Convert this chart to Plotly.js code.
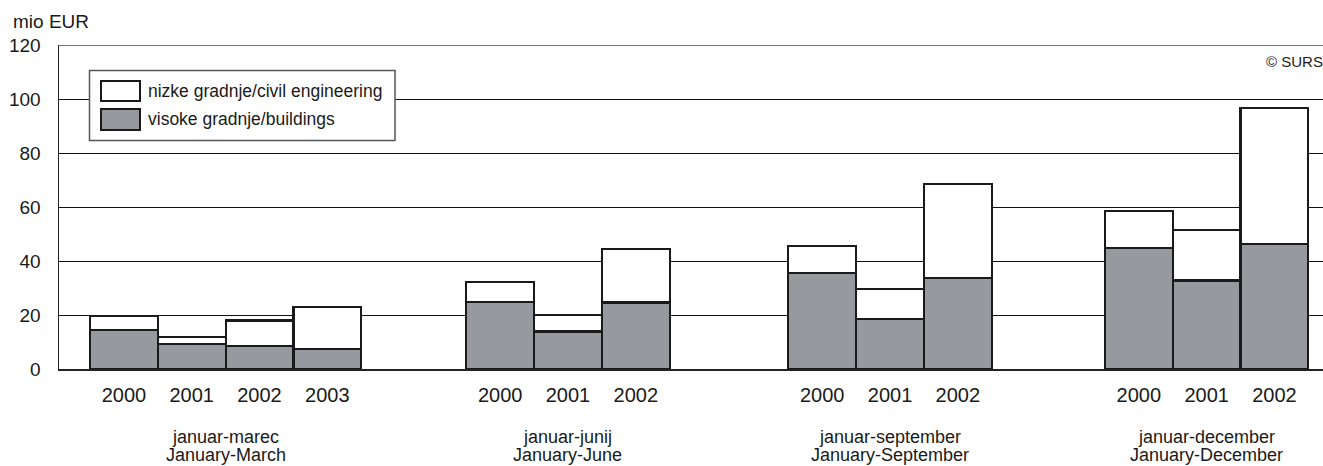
<!DOCTYPE html>
<html>
<head>
<meta charset="utf-8">
<script src="https://cdn.plot.ly/plotly-3.0.1.min.js"></script>
<style>html,body{margin:0;padding:0;background:#fff;}#chart{width:1323px;height:466px;}</style>
</head>
<body>
<div id="chart"></div>
<script>
// ---- data ----
const periodsSl = ["januar-marec", "januar-junij", "januar-september", "januar-december"];
const periodsEn = ["January-March", "January-June", "January-September", "January-December"];
const years = [
  ["2000", "2001", "2002", "2003"],
  ["2000", "2001", "2002"],
  ["2000", "2001", "2002"],
  ["2000", "2001", "2002"]
];
const buildings = [
  [14.5, 9.4, 8.6, 7.4],
  [24.8, 13.9, 24.6],
  [35.5, 18.6, 33.7],
  [44.9, 32.8, 46.4]
];
const civilEngineering = [
  [5.0, 2.4, 9.4, 15.5],
  [7.4, 6.2, 19.9],
  [10.1, 10.9, 34.8],
  [13.6, 18.7, 50.4]
];
const seriesNames = ["nizke gradnje/civil engineering", "visoke gradnje/buildings"];
const yTicks = [0, 20, 40, 60, 80, 100, 120];
const unitLabel = "mio EUR";
const sourceLabel = "© SURS";

// ---- layout geometry (positions, not data) ----
const groupStart = [0, 5.55, 10.3, 14.97];
const W = 1323, H = 466;
const mL = 59, mR = 0, mT = 45, mB = 97;
const plotW = W - mL - mR, plotH = H - mT - mB;
const px = x => (x - mL) / plotW;
const py = y => (H - mB - y) / plotH;

const xs = [], yrs = [], bld = [], civ = [];
years.forEach((ys, g) => ys.forEach((yr, i) => {
  xs.push(groupStart[g] + i + 0.5);
  yrs.push(yr);
  bld.push(buildings[g][i]);
  civ.push(civilEngineering[g][i]);
}));

const gray = "#96999d";
const traces = [
  {type: "bar", x: xs, y: bld, name: seriesNames[1], width: 1,
   marker: {color: gray, line: {color: "#1a1a1a", width: 2.2}}, hoverinfo: "y"},
  {type: "bar", x: xs, y: civ, name: seriesNames[0], width: 1,
   marker: {color: "#ffffff", line: {color: "#1a1a1a", width: 2.2}}, hoverinfo: "y"}
];

const font = "Liberation Sans, Arial, Helvetica, sans-serif";
const annotations = [];
periodsSl.forEach((p, g) => {
  const cx = groupStart[g] + years[g].length / 2;
  annotations.push({xref: "x", yref: "paper", x: cx, y: py(437), text: p, showarrow: false,
    xanchor: "center", yanchor: "middle", font: {family: font, size: 18, color: "#1a1a1a"}});
  annotations.push({xref: "x", yref: "paper", x: cx, y: py(455), text: periodsEn[g], showarrow: false,
    xanchor: "center", yanchor: "middle", font: {family: font, size: 18, color: "#1a1a1a"}});
});
annotations.push({xref: "paper", yref: "paper", x: px(11), y: py(22), text: unitLabel, showarrow: false,
  xanchor: "left", yanchor: "middle", font: {family: font, size: 19, color: "#1a1a1a"}});
annotations.push({xref: "paper", yref: "paper", x: px(1264), y: py(61), text: sourceLabel, showarrow: false,
  xanchor: "left", yanchor: "middle", font: {family: font, size: 15, color: "#1a1a1a"}});
// custom legend texts
annotations.push({xref: "paper", yref: "paper", x: px(146), y: py(91), text: seriesNames[0], showarrow: false,
  xanchor: "left", yanchor: "middle", font: {family: font, size: 17.5, color: "#1a1a1a"}});
annotations.push({xref: "paper", yref: "paper", x: px(146), y: py(119), text: seriesNames[1], showarrow: false,
  xanchor: "left", yanchor: "middle", font: {family: font, size: 17.5, color: "#1a1a1a"}});

const shapes = [
  {type: "line", xref: "paper", yref: "y", x0: 0, x1: 1, y0: 120, y1: 120, line: {color: "#77726d", width: 2}, layer: "above"},
  {type: "rect", xref: "paper", yref: "paper", x0: px(89.5), x1: px(395), y0: py(70.5), y1: py(140.5),
   fillcolor: "#ffffff", line: {color: "#555555", width: 1.5}, layer: "above"},
  {type: "rect", xref: "paper", yref: "paper", x0: px(101), x1: px(140), y0: py(81), y1: py(101),
   fillcolor: "#ffffff", line: {color: "#1a1a1a", width: 2}, layer: "above"},
  {type: "rect", xref: "paper", yref: "paper", x0: px(101), x1: px(140), y0: py(109), y1: py(130),
   fillcolor: gray, line: {color: "#1a1a1a", width: 2}, layer: "above"}
];

const layout = {
  width: W, height: H,
  margin: {l: mL, r: mR, t: mT, b: mB, pad: 0},
  paper_bgcolor: "#fff", plot_bgcolor: "#fff",
  barmode: "stack", bargap: 0,
  showlegend: false,
  font: {family: font, color: "#1a1a1a"},
  xaxis: {
    range: [(mL - 90) / 67.8, (mL - 90) / 67.8 + plotW / 67.8],
    tickmode: "array", tickvals: xs, ticktext: yrs,
    showgrid: false, zeroline: false, showline: true, linecolor: "#222", linewidth: 1.5,
    ticks: "", ticklabelstandoff: 7,
    tickfont: {family: font, size: 20, color: "#1a1a1a"}, fixedrange: true
  },
  yaxis: {
    range: [0, 120], tickmode: "array", tickvals: yTicks, ticktext: yTicks.map(String),
    showgrid: true, gridcolor: "#111", gridwidth: 1,
    zeroline: false, showline: true, linecolor: "#222", linewidth: 1.5,
    ticks: "", ticklabelstandoff: 13,
    tickfont: {family: font, size: 19, color: "#1a1a1a"}, fixedrange: true
  },
  shapes: shapes,
  annotations: annotations
};

Plotly.newPlot("chart", traces, layout, {displayModeBar: false, staticPlot: true});
</script>
</body>
</html>
